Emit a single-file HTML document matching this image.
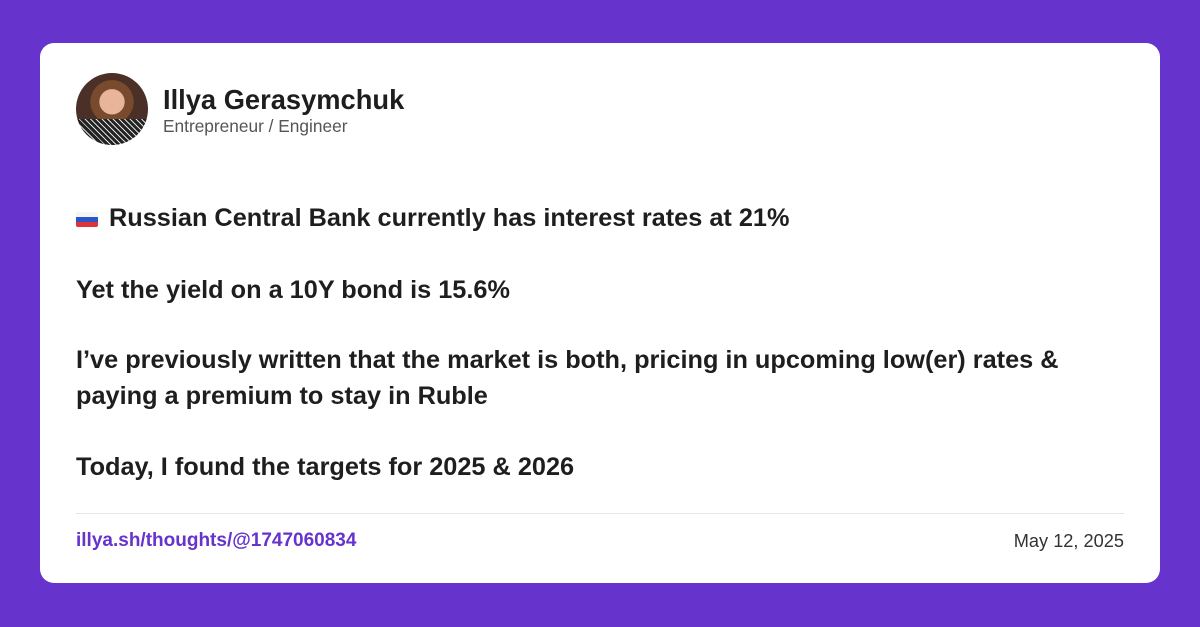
<!DOCTYPE html>
<html><head><meta charset="utf-8"><style>
html,body{margin:0;padding:0;}
body{width:1200px;height:627px;background:#6633cc;position:relative;overflow:hidden;font-family:"Liberation Sans",sans-serif;color:#1e1e1e;}
.card{position:absolute;left:40px;top:43px;width:1120px;height:540px;background:#fff;border-radius:14px;}
.avatar{position:absolute;left:76px;top:73px;width:72px;height:72px;border-radius:50%;background:radial-gradient(circle at 50% 40%,#e8b49a 0 22%,#7a4a2e 23% 38%,#4a3026 39%);overflow:hidden;}
.scarf{position:absolute;left:0;top:46px;width:72px;height:30px;background:repeating-linear-gradient(45deg,#222 0 3px,#ddd 3px 4px);}
.name{position:absolute;left:163px;top:84px;font-size:27.3px;font-weight:bold;}
.sub{position:absolute;left:163px;top:116px;font-size:17.3px;color:#555;}
.t{position:absolute;left:76px;font-size:25.3px;font-weight:bold;line-height:36px;white-space:nowrap;}
.flag{display:inline-block;width:22px;height:15px;vertical-align:-1px;margin-right:11px;border-radius:2px;background:linear-gradient(#f5f5f5 0 33%,#2b56c8 33% 66%,#e0303a 66%);}
.hr{position:absolute;left:76px;top:513px;width:1048px;height:1px;background:#e6e6e6;}
.link{position:absolute;left:76px;top:530px;font-size:19px;color:#6633cc;font-weight:bold;}
.date{position:absolute;right:76px;top:531px;font-size:18.2px;color:#333;}
</style></head><body>
<div class="card"></div>
<div class="avatar"><div class="scarf"></div></div>
<div class="name">Illya Gerasymchuk</div>
<div class="sub">Entrepreneur / Engineer</div>
<div class="t" style="top:200px"><span class="flag"></span>Russian Central Bank currently has interest rates at 21%</div>
<div class="t" style="top:272px">Yet the yield on a 10Y bond is 15.6%</div>
<div class="t" style="top:342px">I’ve previously written that the market is both, pricing in upcoming low(er) rates &amp;<br>paying a premium to stay in Ruble</div>
<div class="t" style="top:449px">Today, I found the targets for 2025 &amp; 2026</div>
<div class="hr"></div>
<div class="link">illya.sh/thoughts/@1747060834</div>
<div class="date">May 12, 2025</div>
</body></html>
